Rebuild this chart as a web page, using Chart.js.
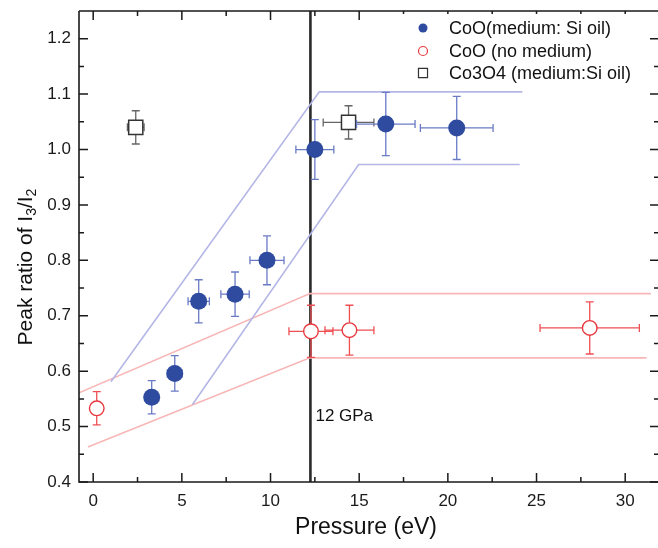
<!DOCTYPE html>
<html><head><meta charset="utf-8">
<script src="https://cdn.jsdelivr.net/npm/chart.js@4.4.0/dist/chart.umd.min.js"></script>
<style>html,body{margin:0;padding:0;background:#fff}</style>
</head><body>
<canvas id="c" width="658" height="548"></canvas>
<script>
// ---- data ----
const xTickValues = [0, 5, 10, 15, 20, 25, 30];
const xMinorTicks = [2.5, 7.5, 12.5, 17.5, 22.5, 27.5];
const yTickValues = [0.4, 0.5, 0.6, 0.7, 0.8, 0.9, 1.0, 1.1, 1.2];
const yMinorTicks = [0.45, 0.55, 0.65, 0.75, 0.85, 0.95, 1.05, 1.15];

const siOilX    = [3.3, 4.6, 5.95, 8.0, 9.8, 12.5, 16.5, 20.5];
const siOilY    = [0.553, 0.596, 0.726, 0.739, 0.800, 1.000, 1.046, 1.039];
const siOilXErr = [0.3, 0.42, 0.6, 0.8, 0.96, 1.07, 1.65, 2.05];
const siOilYErr = [0.03, 0.032, 0.039, 0.04, 0.044, 0.054, 0.057, 0.057];

const noMedX    = [0.2, 12.28, 14.45, 28.0];
const noMedY    = [0.533, 0.672, 0.674, 0.678];
const noMedXErr = [0.0, 1.24, 1.38, 2.8];
const noMedYErr = [0.03, 0.047, 0.045, 0.047];

const co3o4X    = [2.4, 14.4];
const co3o4Y    = [1.040, 1.049];
const co3o4XErr = [0.47, 1.43];
const co3o4YErr = [0.03, 0.03];

const blueUpperX = [1.0, 12.75, 24.2];
const blueUpperY = [0.581, 1.104, 1.104];
const blueLowerX = [5.6, 14.97, 24.05];
const blueLowerY = [0.540, 0.973, 0.973];
const redUpperX  = [-0.8, 12.22, 31.45];
const redUpperY  = [0.561, 0.740, 0.740];
const redLowerX  = [-0.3, 12.22, 31.2];
const redLowerY  = [0.463, 0.624, 0.624];

const transitionX = 12.25;
const transitionLabel = '12 GPa';

const FONT = '"Liberation Sans", Arial, sans-serif';
const pts = (xs, ys) => xs.map((x, i) => ({x: x, y: ys[i]}));

const BLUE = '#2f4b9f', BLUE_ERR = '#6a7bc6', BLUE_BAND = '#b4b6e6';
const RED = '#e8383d', RED_ERR = '#ee4f52', RED_BAND = '#f8b6b6';
const GRAY = '#333333', GRAY_ERR = '#666666';

function band(label, xs, ys, color) {
  return {label: label, data: pts(xs, ys), showLine: true, borderColor: color, borderWidth: 1.6,
          pointRadius: 0, pointHoverRadius: 0, fill: false, tension: 0, order: 10, isBand: true};
}

const datasets = [
  band('blue upper', blueUpperX, blueUpperY, BLUE_BAND),
  band('blue lower', blueLowerX, blueLowerY, BLUE_BAND),
  band('red upper', redUpperX, redUpperY, RED_BAND),
  band('red lower', redLowerX, redLowerY, RED_BAND),
  {label: 'CoO(medium: Si oil)', data: pts(siOilX, siOilY), xErr: siOilXErr, yErr: siOilYErr,
   errColor: BLUE_ERR, pointStyle: 'circle', pointRadius: 8.5, backgroundColor: BLUE, borderColor: BLUE,
   borderWidth: 0, showLine: false, order: 1, legendR: 4.5},
  {label: 'CoO (no medium)', data: pts(noMedX, noMedY), xErr: noMedXErr, yErr: noMedYErr,
   errColor: RED_ERR, pointStyle: 'circle', pointRadius: 7.3, backgroundColor: '#ffffff', borderColor: RED,
   borderWidth: 1.4, showLine: false, order: 2, legendR: 4.5},
  {label: 'Co3O4 (medium:Si oil)', data: pts(co3o4X, co3o4Y), xErr: co3o4XErr, yErr: co3o4YErr,
   errColor: GRAY_ERR, pointStyle: 'rect', pointRadius: 10, backgroundColor: '#ffffff', borderColor: GRAY,
   borderWidth: 1.5, showLine: false, order: 3, legendR: 6.4}
];

function noPad(s) { s.paddingTop = 0; s.paddingBottom = 0; s.paddingLeft = 0; s.paddingRight = 0; }

const decor = {
  id: 'decor',
  beforeDatasetsDraw(chart) {
    const ctx = chart.ctx, a = chart.chartArea, xs = chart.scales.x;
    const px = xs.getPixelForValue(transitionX);
    ctx.save();
    ctx.strokeStyle = '#2a2a2a'; ctx.lineWidth = 2.6;
    ctx.beginPath(); ctx.moveTo(px, a.top); ctx.lineTo(px, a.bottom); ctx.stroke();
    ctx.restore();
  },
  beforeDatasetDraw(chart, args) {
    const ds = chart.data.datasets[args.index];
    if (!ds.xErr) return;
    const ctx = chart.ctx, xs = chart.scales.x, ys = chart.scales.y;
    const cap = 4;
    ctx.save();
    ctx.strokeStyle = ds.errColor; ctx.lineWidth = 1.3;
    ds.data.forEach((p, i) => {
      const cx = xs.getPixelForValue(p.x), cy = ys.getPixelForValue(p.y);
      const y1 = ys.getPixelForValue(p.y + ds.yErr[i]), y2 = ys.getPixelForValue(p.y - ds.yErr[i]);
      ctx.beginPath();
      ctx.moveTo(cx, y1); ctx.lineTo(cx, y2);
      ctx.moveTo(cx - cap, y1); ctx.lineTo(cx + cap, y1);
      ctx.moveTo(cx - cap, y2); ctx.lineTo(cx + cap, y2);
      if (ds.xErr[i] > 0) {
        const x1 = xs.getPixelForValue(p.x - ds.xErr[i]), x2 = xs.getPixelForValue(p.x + ds.xErr[i]);
        ctx.moveTo(x1, cy); ctx.lineTo(x2, cy);
        ctx.moveTo(x1, cy - cap); ctx.lineTo(x1, cy + cap);
        ctx.moveTo(x2, cy - cap); ctx.lineTo(x2, cy + cap);
      }
      ctx.stroke();
    });
    ctx.restore();
  },
  afterDraw(chart) {
    const ctx = chart.ctx, a = chart.chartArea, xs = chart.scales.x, ys = chart.scales.y;
    ctx.save();
    const rightEdge = chart.width + 1;
    // frame
    ctx.strokeStyle = '#1a1a1a'; ctx.lineWidth = 1.6;
    ctx.beginPath();
    ctx.moveTo(a.left, a.top); ctx.lineTo(rightEdge, a.top);
    ctx.moveTo(a.left, a.top); ctx.lineTo(a.left, a.bottom);
    ctx.lineTo(rightEdge, a.bottom);
    ctx.stroke();
    // ticks
    ctx.lineWidth = 1.5;
    const maj = 9, min = 5;
    ctx.beginPath();
    xTickValues.concat(xMinorTicks).forEach(v => {
      const L = xTickValues.includes(v) ? maj : min;
      const p = xs.getPixelForValue(v);
      ctx.moveTo(p, a.bottom); ctx.lineTo(p, a.bottom - L);
      ctx.moveTo(p, a.top); ctx.lineTo(p, a.top + L);
    });
    yTickValues.concat(yMinorTicks).forEach(v => {
      const L = yTickValues.includes(v) ? maj : min;
      const p = ys.getPixelForValue(v);
      ctx.moveTo(a.left, p); ctx.lineTo(a.left + L, p);
      ctx.moveTo(rightEdge, p); ctx.lineTo(rightEdge - L, p);
    });
    ctx.stroke();

    // legend (white box)
    const lx = 395, ly = 14;
    ctx.fillStyle = '#ffffff';
    ctx.fillRect(lx, ly, 253, 74);
    const rows = [28, 51, 73];
    chart.data.datasets.filter(d => d.xErr).forEach((d, i) => {
      const y = rows[i], mx = 423;
      ctx.beginPath();
      if (d.pointStyle === 'rect') {
        const s = d.legendR * Math.SQRT1_2;
        ctx.rect(mx - s, y - s, 2 * s, 2 * s);
      } else {
        ctx.arc(mx, y, d.legendR, 0, Math.PI * 2);
      }
      ctx.fillStyle = d.backgroundColor; ctx.fill();
      if (d.borderWidth > 0) { ctx.strokeStyle = d.borderColor; ctx.lineWidth = 1.2; ctx.stroke(); }
      ctx.fillStyle = '#111'; ctx.font = '18px ' + FONT; ctx.textBaseline = 'middle'; ctx.textAlign = 'left';
      ctx.fillText(d.label, 449, y + 1);
    });

    // transition label
    ctx.fillStyle = '#111'; ctx.font = '17px ' + FONT; ctx.textBaseline = 'middle'; ctx.textAlign = 'left';
    ctx.fillText(transitionLabel, xs.getPixelForValue(transitionX) + 5, ys.getPixelForValue(0.518));

    // x title
    ctx.font = '23px ' + FONT; ctx.textAlign = 'center'; ctx.textBaseline = 'middle';
    ctx.fillText('Pressure (eV)', 366, 528);

    // y title with subscripts
    const parts = [['Peak ratio of I', false], ['3', true], ['/I', false], ['2', true]];
    const mainF = '21px ' + FONT, subF = '14px ' + FONT;
    let total = 0;
    parts.forEach(p => { ctx.font = p[1] ? subF : mainF; total += ctx.measureText(p[0]).width; });
    ctx.translate(25, 267); ctx.rotate(-Math.PI / 2);
    ctx.textAlign = 'left'; ctx.textBaseline = 'alphabetic';
    let cx = -total / 2;
    parts.forEach(p => {
      ctx.font = p[1] ? subF : mainF;
      ctx.fillText(p[0], cx, p[1] ? 11 : 7);
      cx += ctx.measureText(p[0]).width;
    });
    ctx.restore();
  }
};

new Chart(document.getElementById('c'), {
  type: 'scatter',
  data: {datasets: datasets},
  options: {
    responsive: false, animation: false, devicePixelRatio: 1,
    layout: {autoPadding: false, padding: {top: 11, right: 0, left: 0, bottom: 0}},
    plugins: {legend: {display: false}, tooltip: {enabled: false}},
    scales: {
      x: {type: 'linear', min: -0.8, max: 31.85,
          grid: {display: false, drawTicks: false}, border: {display: false},
          afterFit(s) { s.height = 66; noPad(s); },
          afterBuildTicks(s) { s.ticks = xTickValues.map(v => ({value: v})); },
          ticks: {padding: 9, color: '#1a1a1a', font: {family: FONT, size: 17}, maxRotation: 0,
                  callback: v => String(v)}},
      y: {type: 'linear', min: 0.4, max: 1.25,
          grid: {display: false, drawTicks: false}, border: {display: false},
          afterFit(s) { s.width = 79; noPad(s); },
          afterBuildTicks(s) { s.ticks = yTickValues.map(v => ({value: v})); },
          ticks: {padding: 8, color: '#1a1a1a', font: {family: FONT, size: 17},
                  callback: v => v.toFixed(1)}}
    }
  },
  plugins: [decor]
});
</script>
</body></html>
